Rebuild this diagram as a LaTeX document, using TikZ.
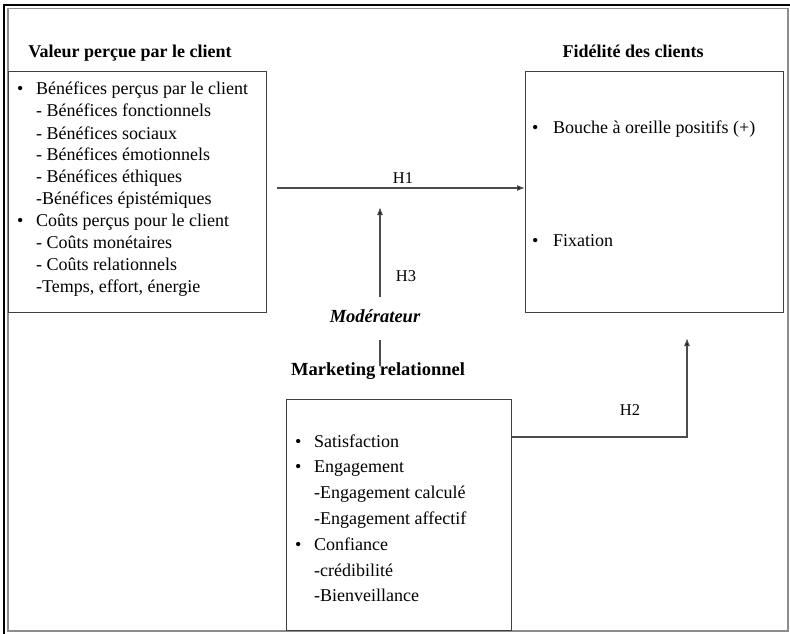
\documentclass[tikz,border=0pt]{standalone}
\usepackage{fontspec}
\setmainfont{Liberation Serif}
\usetikzlibrary{arrows.meta}
\newcommand\mybul{\makebox[19pt][l]{•}}
\newcommand\mybulr{\makebox[21pt][l]{•}}
\begin{document}
\begin{tikzpicture}[x=1pt,y=-1pt,
 boxstyle/.style={draw=black!75, line width=1.3pt, inner sep=0, anchor=north west},
 title/.style={font=\fontsize{18}{22}\selectfont\bfseries, anchor=base, inner sep=0},
 body/.style={font=\fontsize{18}{22}\selectfont, anchor=base west, inner sep=0, align=left},
 hlab/.style={font=\fontsize{16.5}{20}\selectfont, anchor=base, inner sep=0},
 conn/.style={draw=black!70, line width=1.2pt},
 arr/.style={conn, -{Latex[length=8pt,width=6pt,fill=black]}}]
\useasboundingbox (0,0) rectangle (790,634);
\fill[white] (0,0) rectangle (790,634);
% frame
\draw[black!45, line width=1.6pt] (8,8.5) rectangle (788,631);
\draw[black, line width=2.5pt] (4,634) -- (4,5) -- (790,5);
% boxes
\node[boxstyle, minimum width=258pt, minimum height=241pt] (vpc) at (8,71) {};
\node[boxstyle, minimum width=258pt, minimum height=241pt] (fid) at (525,71) {};
\node[boxstyle, minimum width=225pt, minimum height=231pt] (mr) at (286,399) {};
% titles
\node[title] (t1) at (130,58) {Valeur perçue par le client};
\node[title] (t2) at (633,58) {Fidélité des clients};
\node[title, font=\fontsize{18.5}{22}\selectfont\bfseries\itshape] (t3) at (375,322) {Modérateur};
\node[title, font=\fontsize{18.5}{22}\selectfont\bfseries] (t4) at (378,375) {Marketing relationnel};
% lists
\node[body] (l1) at (17,95) {\begin{tabular}[t]{@{}l@{}l@{}}
\mybul & Bénéfices perçus par le client\\
 & - Bénéfices fonctionnels\\
 & - Bénéfices sociaux\\
 & - Bénéfices émotionnels\\
 & - Bénéfices éthiques\\
 & -Bénéfices épistémiques\\
\mybul & Coûts perçus pour le client\\
 & - Coûts monétaires\\
 & - Coûts relationnels\\
 & -Temps, effort, énergie
\end{tabular}};
\node[body] (f1) at (532,133) {\mybulr Bouche à oreille positifs (+)};
\node[body] (f2) at (532,246) {\mybulr Fixation};
\node[body, font=\fontsize{18}{25.8}\selectfont] (m1) at (295,447) {\begin{tabular}[t]{@{}l@{}l@{}}
\mybul & Satisfaction\\
\mybul & Engagement\\
 & -Engagement calculé\\
 & -Engagement affectif\\
\mybul & Confiance\\
 & -crédibilité\\
 & -Bienveillance
\end{tabular}};
% connectors
\coordinate (h1s) at (277,188);
\draw[arr] (h1s) -- (fid.west |- h1s);
\node[hlab] (h1) at (403,183) {H1};
\coordinate (h3s) at (380,297);
\coordinate (h3e) at (380,207);
\draw[arr] (h3s) -- (h3e);
\node[hlab] (h3) at (406,281) {H3};
\coordinate (ms) at (380,340);
\coordinate (me) at (380,366);
\draw[conn] (ms) -- (me);
\coordinate (h2c) at (687,437);
\coordinate (h2e) at (687,338);
\draw[arr] (mr.east |- h2c) -- (h2c) -- (h2e);
\node[hlab] (h2) at (630,415) {H2};
\end{tikzpicture}
\end{document}
